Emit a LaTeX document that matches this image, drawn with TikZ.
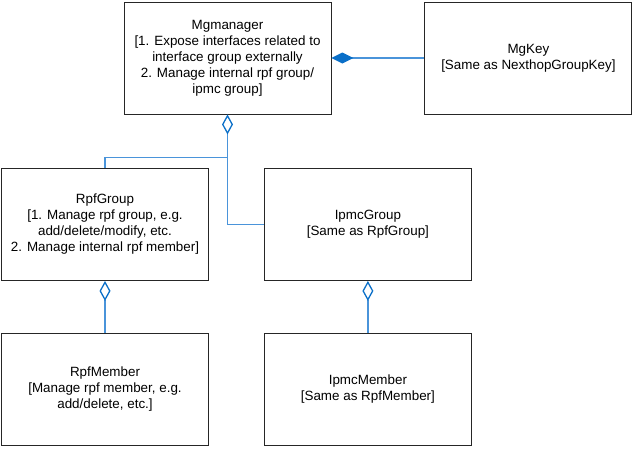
\documentclass[tikz,border=0pt]{standalone}
\usepackage{fontspec}
\setmainfont{Liberation Sans}
\usetikzlibrary{positioning,arrows.meta}
\definecolor{linkblue}{HTML}{4A94DA}
\definecolor{tipblue}{HTML}{0A6FC8}

\begin{document}
\begin{tikzpicture}[x=1pt, y=1pt,
    font=\fontsize{13.4}{16}\selectfont,
    cls/.style={draw=black!85,
          line width=0.9pt,
          minimum width=207pt,
          minimum height=112pt,
          inner sep=0pt,
          align=center},
    link/.style={draw=linkblue, line width=1.3pt},
    agg/.style={link, {Diamond[open, length=20pt, width=11pt, color=tipblue]}-},
    comp/.style={link, {Diamond[length=22pt, width=11pt, color=tipblue]}-}]
   \useasboundingbox (0,0) rectangle (633,-448);
   \node[cls] (mg) at (227.5,-58)
        {Mgmanager\\{}[1. Expose interfaces related to\\interface group externally\\2. Manage internal rpf group/\\ipmc group]};
   \node[cls,
          right=93pt of mg] (key) {MgKey\\{}[Same as NexthopGroupKey]};
   \node[cls] (rpf) at (105,-224.5)
        {RpfGroup\\{}[1. Manage rpf group, e.g.\\add/delete/modify, etc.\\2. Manage internal rpf member]};
   \node[cls,
          right=55pt of rpf] (ipmc) {IpmcGroup\\{}[Same as RpfGroup]};
   \node[cls,
          below=52pt of rpf] (rpfm) {RpfMember\\{}[Manage rpf member, e.g.\\add/delete, etc.]};
   \node[cls,
          below=52pt of ipmc] (ipmcm) {IpmcMember\\{}[Same as RpfMember]};
   \coordinate[below=43pt of mg] (fork);
   % connect the classes
   \draw[comp] (mg) -- (key);
   \draw[agg] (mg.south) |- (ipmc.west);
   \draw[link] (fork) -| (rpf.north);
   \draw[agg] (rpf) -- (rpfm);
   \draw[agg] (ipmc) -- (ipmcm);
\end{tikzpicture}
\end{document}
